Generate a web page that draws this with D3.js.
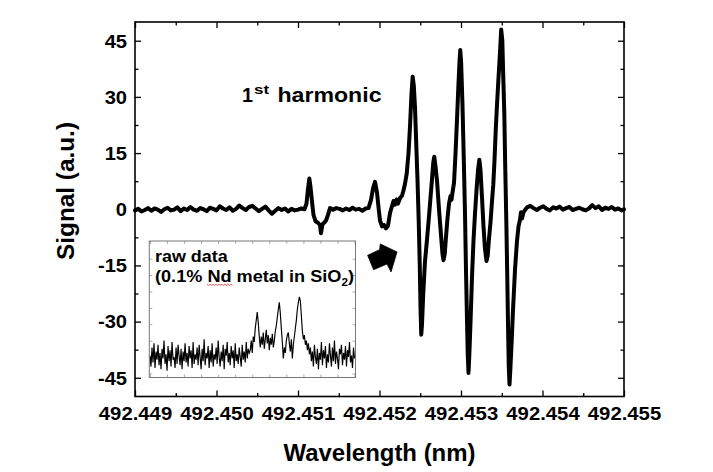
<!DOCTYPE html>
<html><head><meta charset="utf-8">
<script src="https://cdn.jsdelivr.net/npm/d3@7"></script>
<style>
body{margin:0;background:#fff;}
text{font-family:"Liberation Sans",Arial,Helvetica,sans-serif;font-weight:bold;}
</style>
</head><body><svg id="c" width="713" height="472"></svg>
<script>
// ---------- DATA ----------
const wavelength = [
492.44900,492.44904,492.44908,492.44912,492.44916,492.44920,492.44924,492.44928,492.44932,492.44936,
492.44940,492.44944,492.44948,492.44952,492.44956,492.44960,492.44964,492.44968,492.44972,492.44976,
492.44980,492.44984,492.44988,492.44992,492.44996,492.45000,492.45004,492.45008,492.45012,492.45016,
492.45020,492.45024,492.45028,492.45032,492.45036,492.45040,492.45044,492.45048,492.45052,492.45056,
492.45060,492.45064,492.45068,492.45072,492.45076,492.45080,492.45084,492.45088,492.45092,492.45096,
492.45100,492.45104,492.45108,
492.451104,492.451123,492.451139,492.451153,492.451172,492.451190,492.451215,492.451245,492.451270,492.451282,
492.451301,492.451325,492.451344,492.451368,492.451393,
492.45143,492.45147,492.45151,492.45155,492.45159,492.45163,492.45167,492.45171,492.45175,492.45179,492.45183,
492.451865,492.451896,492.451920,492.451945,492.451969,492.451988,492.452006,492.452031,492.452055,492.452080,
492.452104,492.452129,492.452153,492.452172,492.452190,492.452209,492.452227,492.452252,492.452276,492.452294,
492.452313,492.452334,492.452356,492.452374,492.452393,492.452407,492.452421,492.452436,492.452450,492.452466,
492.452481,492.452494,492.452503,492.452512,492.452521,492.452537,492.452558,492.452579,492.452601,492.452620,
492.452644,492.452660,492.452672,492.452687,492.452706,492.452730,492.452755,492.452773,492.452785,492.452800,
492.452816,492.452834,492.452853,492.452871,492.452883,492.452896,492.452914,492.452933,492.452951,492.452969,
492.452982,492.452991,492.453002,492.453018,492.453033,492.453049,492.453061,492.453074,492.453083,492.453092,
492.453102,492.453117,492.453135,492.453153,492.453172,492.453190,492.453209,492.453225,492.453239,492.453258,
492.453276,492.453294,492.453313,492.453327,492.453343,492.453362,492.453380,492.453396,492.453411,492.453426,
492.453442,492.453460,492.453479,492.453493,492.453507,492.453519,492.453531,492.453543,492.453556,492.453567,
492.453577,492.453586,492.453595,492.453605,492.453620,492.453638,492.453663,492.453687,492.453706,492.453724,
492.453736,492.453748,492.453767,492.453785,
492.45381,492.45385,492.45389,492.45393,492.45397,492.45401,492.45405,492.45409,492.45413,492.45417,
492.45421,492.45425,492.45429,492.45433,492.45437,492.45441,492.45445,492.45449,492.45453,492.45457,
492.45461,492.45465,492.45469,492.45473,492.45477,492.45481,492.45485,492.45489,492.45493,492.45497,492.45500
];
const signal = [
-0.3,0.1,-0.6,-0.2,0.3,-0.4,0.2,-0.1,-0.7,0.0,
0.4,-0.3,-0.1,0.5,-0.5,0.2,-0.2,0.6,-0.1,-0.4,
0.3,0.0,-0.5,0.4,0.1,-0.3,0.8,0.2,-0.2,0.5,
-0.4,0.1,1.0,0.3,-0.2,0.6,0.9,0.2,-0.5,0.1,
0.7,-0.3,-1.2,-0.4,0.3,-0.2,0.2,-0.6,0.1,-0.3,
-0.1,0.2,0.0,
1.5,5.5,8.2,6.0,2.0,-1.5,-3.2,-3.6,-4.2,-6.4,
-4.0,-3.5,-3.0,-1.5,0.3,
-0.1,0.3,0.1,-0.3,0.2,-0.2,0.4,-0.1,0.1,-0.4,0.2,
0.3,2.5,5.5,7.3,4.5,0.5,-3.0,-4.6,-4.2,-5.1,
-4.4,-1.0,0.8,2.2,1.2,2.6,1.5,3.0,3.6,5.0,
6.8,9.5,15,22,31,35.4,33,27,18,8,
-3,-15,-26,-33.5,-31,-22.4,-14,-9,-3.5,1.5,
8,12.5,14,11.5,7.5,0,-7,-12,-13.6,-12,
-7.4,-2.5,1.5,3.5,2.5,4.5,7,15,24,33.5,
39.5,42.5,39,28,14.5,-1,-16,-30,-39,-43.7,
-39,-30,-18,-8.5,-1,5,10.5,13.2,10.5,3,
-4.5,-10.5,-13.8,-12.5,-8,-3.5,2,6.5,13,21,
28,35,42,48,45,35,26,11,-3,-17,
-31,-42,-46.8,-43,-36,-27,-16,-8.5,-4.5,-2.8,
-0.8,-2.5,-0.8,-0.2,
0.5,0.9,0.3,-0.2,0.4,0.8,0.1,-0.3,0.5,0.2,
0.7,-0.1,0.3,0.6,-0.2,0.1,0.4,0.0,-0.3,0.2,
1.1,0.3,0.8,-0.2,0.4,0.1,0.6,-0.1,0.2,-0.3,0.0
];
const xMajor = [492.449,492.450,492.451,492.452,492.453,492.454,492.455];
const xTickLabels = ["492.449","492.450","492.451","492.452","492.453","492.454","492.455"];
const xMinor = [492.4495,492.4505,492.4515,492.4525,492.4535,492.4545];
const yMajor = [-45,-30,-15,0,15,30,45];
const yMinor = [-37.5,-22.5,-7.5,7.5,22.5,37.5];
// inset raw data (relative intensity)
const rawSignal = [
16,8,22,11,25,7,19,13,24,9,18,6,21,14,27,10,17,5,23,12,20,8,26,13,15,7,22,10,24,16,9,21,6,19,12,25,11,18,8,23,14,20,7,26,10,17,13,22,9,24,
15,6,21,12,28,9,18,14,23,7,20,11,25,8,17,13,22,10,27,15,8,19,12,24,6,21,16,26,11,18,9,23,14,20,7,25,12,17,10,22,15,8,24,13,19,11,26,14,21,18,
20,27,18,30,26,36,42,48,40,30,22,
30,24,33,21,28,35,25,31,20,29,24,32,22,27,34,38,44,
50,55,47,36,26,
14,22,18,27,31,33,25,19,28,14,24,30,36,42,50,55,59,56,45,34,28,31,24,27,20,25,17,
22,12,19,8,24,15,10,21,6,18,13,26,9,20,14,23,7,17,11,25,16,8,22,12,27,10,19,14,6,21,17,24,9,18,13,23,8,20,15,26,11,16,7,22,14
];
const insetXTicks = [0,17,34,51,68,85,102,119,136,153,170,187,204];
const insetYTicks = [3,15,27,39,51,63,75,87];

// ---------- DRAW ----------
const svg = d3.select('#c');
svg.append('rect').attr('width',713).attr('height',472).attr('fill','#fff');
const L=135,R=624,T=22,B=396.5;
const x = d3.scaleLinear().domain([492.449,492.455]).range([L,R]);
const y = d3.scaleLinear().domain([-50,50]).range([B,T]);

function stretch(sel,f){
  sel.each(function(){
    const w=this.getComputedTextLength();
    d3.select(this).attr('textLength',w*f).attr('lengthAdjust','spacingAndGlyphs');
  });
}
function axisGroup(axis,tx,ty,sw){
  const g=svg.append('g').attr('transform',`translate(${tx},${ty})`).call(axis);
  g.select('.domain').remove();
  g.selectAll('line').attr('stroke','#000').attr('stroke-width',sw||1.3);
  return g;
}
// main axes (ticks inward on all sides)
const gb = axisGroup(d3.axisBottom(x).tickValues(xMajor).tickSize(-6).tickFormat((d,i)=>xTickLabels[i]),0,B);
gb.selectAll('text').attr('y',23).attr('dy',0).attr('font-size',17.5).attr('fill','#000');
stretch(gb.selectAll('text'),1.16);
axisGroup(d3.axisBottom(x).tickValues(xMinor).tickSize(-3.5).tickFormat(''),0,B);
axisGroup(d3.axisTop(x).tickValues(xMajor).tickSize(-6).tickFormat(''),0,T);
axisGroup(d3.axisTop(x).tickValues(xMinor).tickSize(-3.5).tickFormat(''),0,T);
const gl = axisGroup(d3.axisLeft(y).tickValues(yMajor).tickSize(-6).tickFormat(d=>String(d)),L,0);
gl.selectAll('text').attr('x',-8).attr('y',6.3).attr('dy',0).attr('font-size',17.5).attr('fill','#000');
stretch(gl.selectAll('text'),1.15);
axisGroup(d3.axisLeft(y).tickValues(yMinor).tickSize(-3.5).tickFormat(''),L,0);
axisGroup(d3.axisRight(y).tickValues(yMajor).tickSize(-6).tickFormat(''),R,0);
axisGroup(d3.axisRight(y).tickValues(yMinor).tickSize(-3.5).tickFormat(''),R,0);

svg.append('rect').attr('x',L).attr('y',T).attr('width',R-L).attr('height',B-T)
  .attr('fill','none').attr('stroke','#000').attr('stroke-width',1.6);

// main trace
const pts = wavelength.map((w,i)=>[w,signal[i]]);
svg.append('path').datum(pts)
  .attr('d',d3.line().x(d=>x(d[0])).y(d=>y(d[1])))
  .attr('fill','none').attr('stroke','#000').attr('stroke-width',4)
  .attr('stroke-linejoin','round').attr('stroke-linecap','round');

// axis titles
const xt = svg.append('text').attr('x',(L+R)/2).attr('y',460.5).attr('text-anchor','middle')
  .attr('font-size',23).text('Wavelength (nm)');
xt.attr('textLength',192).attr('lengthAdjust','spacingAndGlyphs');
const yt = svg.append('text').attr('transform','translate(73.5,191) rotate(-90)').attr('text-anchor','middle')
  .attr('font-size',23).text('Signal (a.u.)');
yt.attr('textLength',138).attr('lengthAdjust','spacingAndGlyphs');

// "1st harmonic" label
svg.append('text').attr('x',242).attr('y',102).attr('font-size',21).text('1')
  .attr('textLength',11).attr('lengthAdjust','spacingAndGlyphs');
svg.append('text').attr('x',254).attr('y',93.5).attr('font-size',13).text('st')
  .attr('textLength',15).attr('lengthAdjust','spacingAndGlyphs');
svg.append('text').attr('x',277.5).attr('y',102).attr('font-size',21).text('harmonic')
  .attr('textLength',104).attr('lengthAdjust','spacingAndGlyphs');

// arrow annotation (tip anchored in data space)
const tipX = x(492.452215), tipY = y(-11.4);
const arrowShape = [[-29.4,3.4],[-17.4,-2.3],[-16.7,-8],[0,0],[-6,20],[-10,12],[-23.4,17.7]];
svg.append('path')
  .attr('d', d3.line()(arrowShape.map(p=>[tipX+p[0], tipY+p[1]])) + 'Z')
  .attr('fill','#000').attr('stroke','#000').attr('stroke-width',0.8).attr('stroke-linejoin','round');

// ---------- INSET ----------
const iL=149.3, iR=355.5, iT=241, iB=377.5;
svg.append('rect').attr('x',iL).attr('y',iT).attr('width',iR-iL).attr('height',iB-iT)
  .attr('fill','#fff').attr('stroke','none');
const ix = d3.scaleLinear().domain([0,rawSignal.length-1]).range([150,354.5]);
const iy = d3.scaleLinear().domain([0,100]).range([iB,iT]);
function insetAxis(axis,tx,ty){
  const g=svg.append('g').attr('transform',`translate(${tx},${ty})`).call(axis);
  g.select('.domain').remove();
  g.selectAll('line').attr('stroke','#999').attr('stroke-width',0.8);
}
insetAxis(d3.axisBottom(ix).tickValues(insetXTicks).tickSize(-3).tickFormat(''),0,iB);
insetAxis(d3.axisTop(ix).tickValues(insetXTicks).tickSize(-3).tickFormat(''),0,iT);
insetAxis(d3.axisLeft(iy).tickValues(insetYTicks).tickSize(-3).tickFormat(''),iL,0);
insetAxis(d3.axisRight(iy).tickValues(insetYTicks).tickSize(-3).tickFormat(''),iR,0);
svg.append('path').datum(rawSignal)
  .attr('d',d3.line().x((d,i)=>ix(i)).y(d=>iy(d)))
  .attr('fill','none').attr('stroke','#000').attr('stroke-width',1.15);
svg.append('rect').attr('x',iL).attr('y',iT).attr('width',iR-iL).attr('height',iB-iT)
  .attr('fill','none').attr('stroke','#777').attr('stroke-width',1);

svg.append('text').attr('x',155).attr('y',261.7).attr('font-size',17).text('raw data')
  .attr('textLength',72.7).attr('lengthAdjust','spacingAndGlyphs');
const t2 = svg.append('text').attr('x',155).attr('y',281.7).attr('font-size',17);
t2.append('tspan').text('(0.1% Nd metal in SiO');
t2.append('tspan').attr('font-size',11).attr('dy',4).text('2');
t2.append('tspan').attr('dy',-4).text(')');
t2.attr('textLength',199).attr('lengthAdjust','spacingAndGlyphs');
// spell-check squiggle under "Nd"
const sq = d3.path(); sq.moveTo(207,284.3);
for(let k=1;k<=17;k++){ sq.lineTo(207+k*1.5, 284.3 + (k%2 ? 1.1 : 0)); }
svg.append('path').attr('d',sq.toString()).attr('fill','none').attr('stroke','#e03030').attr('stroke-width',0.8);
</script>
</body></html>
